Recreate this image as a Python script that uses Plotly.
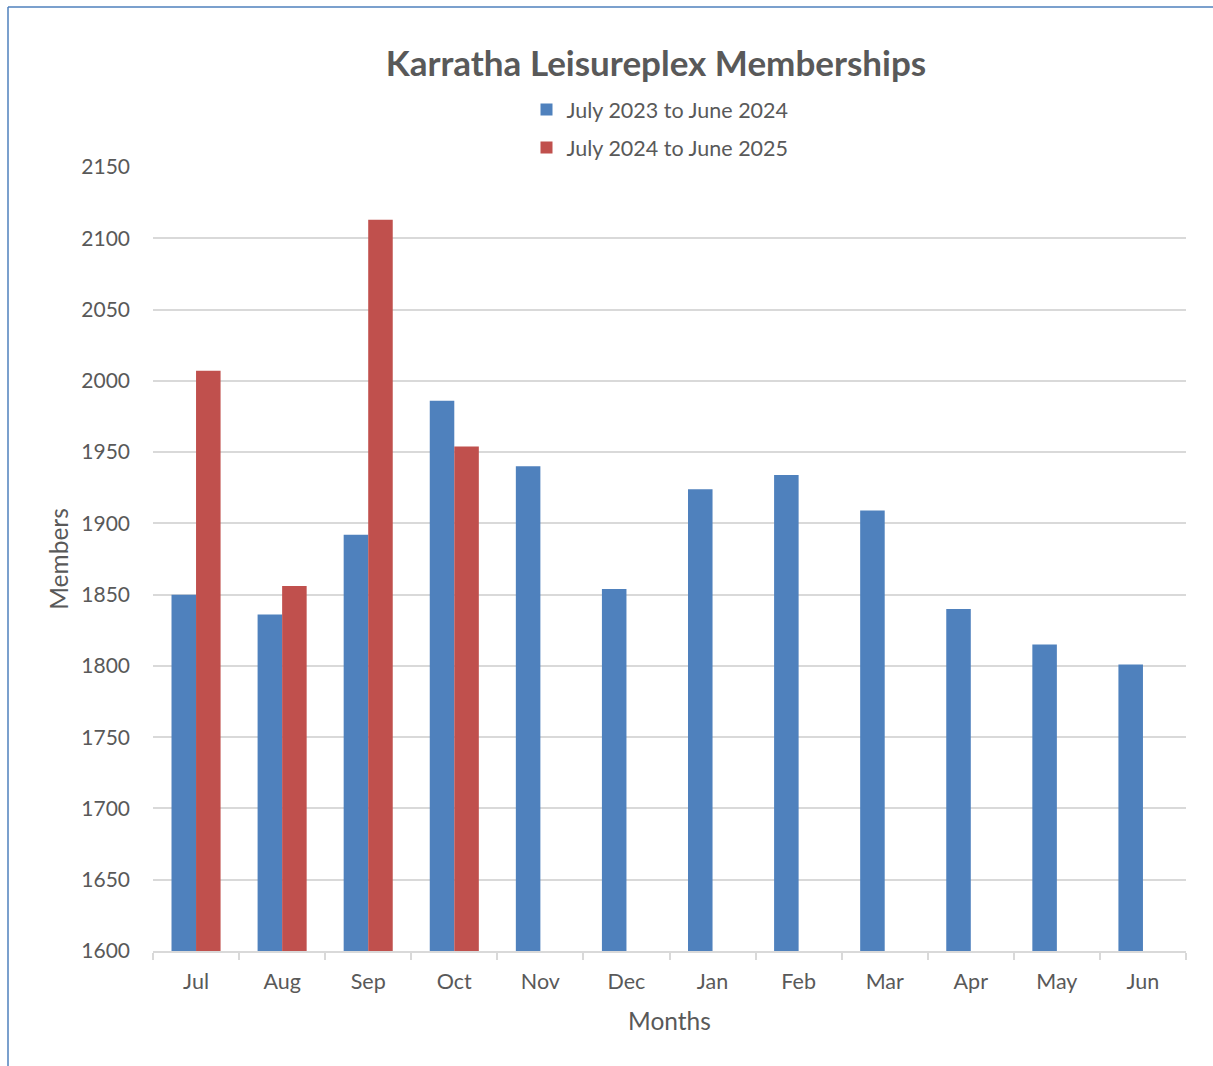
import plotly.graph_objects as go

months = ["Jul", "Aug", "Sep", "Oct", "Nov", "Dec", "Jan", "Feb", "Mar", "Apr", "May", "Jun"]
series1_name = "July 2023 to June 2024"
series1 = [1850, 1836, 1892, 1986, 1940, 1854, 1924, 1934, 1909, 1840, 1815, 1801]
series2_name = "July 2024 to June 2025"
series2 = [2007, 1856, 2113, 1954, None, None, None, None, None, None, None, None]
y_ticks = [1600, 1650, 1700, 1750, 1800, 1850, 1900, 1950, 2000, 2050, 2100, 2150]

FONT = "Lato"
TXT = "#595959"
GRID = "#D9D9D9"

fig = go.Figure()
fig.add_trace(go.Bar(x=months, y=series1, name=series1_name, marker_color="#4F81BD",
                     marker_line_width=0, legendgroup="a"))
fig.add_trace(go.Bar(x=months, y=series2, name=series2_name, marker_color="#C0504D",
                     marker_line_width=0, legendgroup="b"))

W, H = 1213, 1066
L, R, T, B = 153, 27, 167, 115
pw, ph = W - L - R, H - T - B

def px(x):
    return (x - L) / pw

def py(y):
    return (H - B - y) / ph

fig.update_layout(
    width=W, height=H,
    margin=dict(l=L, r=R, t=T, b=B),
    paper_bgcolor="white", plot_bgcolor="white",
    barmode="group", bargap=0.43, bargroupgap=0,
    font=dict(family=FONT, color=TXT, size=20),
    title=dict(text="<b>Karratha Leisureplex Memberships</b>", x=(656) / W, xanchor="center",
               y=1 - 64 / H, yanchor="middle", font=dict(size=35, color=TXT, family=FONT)),
    legend=dict(orientation="v", x=px(660), xanchor="center", y=py(89), yanchor="top",
                font=dict(size=21.5, color=TXT, family=FONT), tracegroupgap=7,
                itemwidth=30, bgcolor="rgba(0,0,0,0)"),
    showlegend=True,
    xaxis=dict(
        type="category", showgrid=False, showline=True, linecolor=GRID, linewidth=2,
        ticks="outside", tickson="boundaries", ticklen=7, tickcolor=GRID, tickwidth=2,
        ticklabelstandoff=10,
        tickfont=dict(size=21.5, color=TXT), fixedrange=True,
        title=dict(text="Months", font=dict(size=24.5, color=TXT), standoff=20),
    ),
    yaxis=dict(
        range=[1600, 2150], tickvals=y_ticks, showgrid=True, gridcolor=GRID, gridwidth=2,
        showline=False, zeroline=False, ticks="", ticklabelstandoff=22,
        tickfont=dict(size=21, color=TXT),
        title=dict(text="Members", font=dict(size=24.5, color=TXT), standoff=5),
    ),
    shapes=[
        dict(type="line", xref="paper", yref="paper", x0=px(8), x1=px(8), y0=py(7), y1=py(H + 2),
             line=dict(color="#4F81BD", width=1.5)),
        dict(type="line", xref="paper", yref="paper", x0=px(8), x1=px(W + 2), y0=py(7), y1=py(7),
             line=dict(color="#4F81BD", width=1.5)),
    ],
)

fig.write_html("out.html", config={"displayModeBar": False},
               post_script="document.body.style.margin='0';")
